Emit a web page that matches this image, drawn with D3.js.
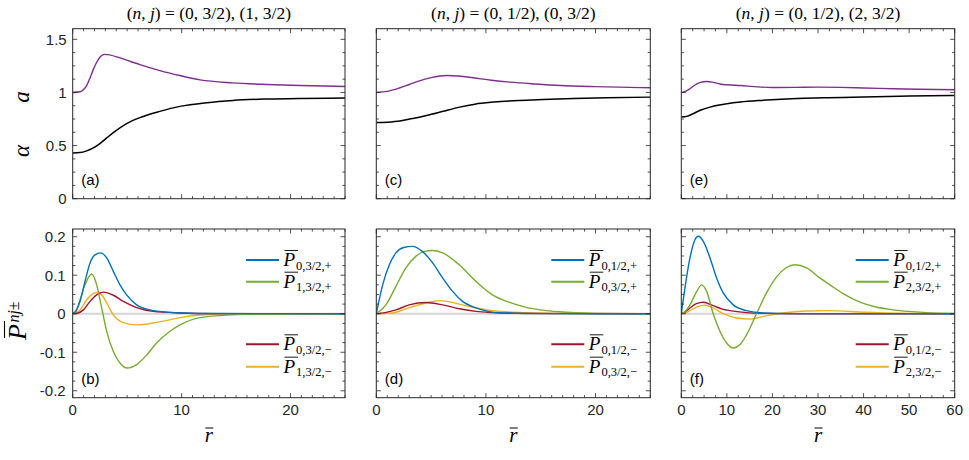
<!DOCTYPE html>
<html><head><meta charset="utf-8">
<script src="https://cdn.jsdelivr.net/npm/d3@7"></script>
<style>body{margin:0;background:#fff} svg{display:block}</style>
</head><body><svg id="c" width="969" height="460"></svg>
<script>
// ---------------- DATA ----------------
// Panel titles (the (n,j) pairs)
const titlePairs = [["0, 3/2", "1, 3/2"], ["0, 1/2", "0, 3/2"], ["0, 1/2", "2, 3/2"]];
const panelLetters = [["(a)", "(b)"], ["(c)", "(d)"], ["(e)", "(f)"]];
const xMax = [25, 25, 60];

// top panels: alpha (black) and a (purple), [r, value]
const alphaA = [[0,0.431],[0.67,0.434],[1.28,0.450],[1.89,0.478],[2.5,0.519],[3.12,0.572],[3.73,0.622],[4.95,0.707],[6.17,0.763],[8.0,0.822],[9.84,0.869],[12.3,0.904],[14.7,0.925],[17.8,0.938],[20.9,0.944],[25,0.947]];
const aA = [[0,1.0],[0.67,1.006],[0.98,1.025],[1.28,1.065],[1.59,1.137],[1.89,1.215],[2.2,1.284],[2.5,1.331],[2.75,1.353],[2.96,1.358],[4.34,1.325],[5.26,1.294],[6.17,1.262],[8.0,1.206],[9.84,1.159],[11.7,1.118],[14.7,1.090],[17.8,1.075],[20.9,1.065],[25,1.056]];
const alphaC = [[0,0.716],[1,0.72],[2.16,0.731],[3.3,0.755],[4.6,0.784],[6,0.82],[7.6,0.862],[9,0.89],[10.7,0.909],[13,0.925],[15.2,0.934],[18,0.943],[21,0.95],[25,0.956]];
const aC = [[0,1.0],[1,1.01],[2.16,1.044],[3,1.075],[4,1.112],[5,1.14],[6.4,1.159],[7.5,1.155],[8.85,1.138],[10.5,1.115],[12.2,1.097],[14.5,1.08],[16.8,1.066],[20,1.055],[25,1.044]];
const alphaE = [[0,0.769],[1.2,0.775],[2.6,0.80],[4.3,0.835],[6.3,0.862],[8,0.88],[10,0.894],[13,0.91],[17.3,0.925],[22,0.937],[27,0.945],[32,0.95],[40,0.958],[50,0.966],[60,0.972]];
const aE = [[0,1.0],[1,1.012],[1.9,1.035],[3,1.07],[4.2,1.095],[5.6,1.103],[7,1.095],[8.5,1.08],[10,1.072],[13,1.065],[16,1.055],[20,1.046],[25,1.048],[30,1.05],[35,1.048],[40,1.042],[46.5,1.035],[52,1.03],[60,1.025]];

// bottom panels: P bar curves, [r, value]
const pB_blue = [[0,0],[0.3,0.008],[0.67,0.032],[1.13,0.084],[1.59,0.132],[2.05,0.153],[2.57,0.158],[3.12,0.145],[3.73,0.11],[4.34,0.075],[4.95,0.049],[5.87,0.023],[7.1,0.010],[8.9,0.0035],[10,0.002],[13,0.0005],[25,0]];
const pB_green = [[0,0],[0.3,0.006],[0.67,0.036],[1.13,0.075],[1.74,0.103],[2.2,0.075],[2.66,0.015],[3.12,-0.046],[3.73,-0.098],[4.34,-0.128],[5.0,-0.141],[5.87,-0.132],[6.8,-0.107],[7.7,-0.076],[8.9,-0.046],[9.85,-0.029],[11.7,-0.010],[14.7,-0.003],[18,-0.0005],[25,0]];
const pB_red = [[0,0],[0.5,0.002],[0.98,0.010],[1.59,0.032],[2.2,0.049],[2.81,0.056],[3.73,0.048],[4.65,0.032],[5.87,0.016],[7.4,0.006],[9.85,0.002],[13,0.0003],[25,0]];
const pB_yellow = [[0,0],[0.3,0.002],[0.67,0.010],[1.28,0.036],[1.8,0.051],[2.2,0.055],[2.66,0.049],[3.12,0.028],[3.73,-0.003],[4.65,-0.023],[5.87,-0.029],[7.4,-0.024],[8.9,-0.016],[9.85,-0.010],[11.5,-0.004],[14,-0.001],[25,0]];

const pD_blue = [[0,0],[0.58,0.075],[1.19,0.127],[1.79,0.158],[2.5,0.172],[3.31,0.175],[4.2,0.162],[5.14,0.132],[6.05,0.093],[6.96,0.058],[7.87,0.032],[9.1,0.015],[10.6,0.004],[12.1,0.002],[15,0.0003],[25,0]];
const pD_green = [[0,0],[0.88,0.023],[1.79,0.071],[2.7,0.119],[3.6,0.149],[4.4,0.162],[5.14,0.164],[6.05,0.158],[7.57,0.127],[9.1,0.084],[10.6,0.049],[12.1,0.030],[13.6,0.017],[15.5,0.008],[17.4,0.004],[20,0.001],[25,0]];
const pD_red = [[0,0],[0.8,0.003],[1.79,0.010],[3.0,0.023],[4.53,0.029],[6.05,0.023],[7.57,0.013],[9.1,0.006],[10.6,0.003],[13,0.001],[25,0]];
const pD_yellow = [[0,0],[1,0.001],[1.79,0.004],[3.0,0.016],[4.53,0.028],[5.75,0.034],[7.57,0.025],[9.1,0.015],[10.6,0.008],[13.6,0.003],[17,0.001],[25,0]];

const pF_blue = [[0,0],[0.8,0.067],[1.9,0.145],[3.0,0.192],[3.73,0.201],[4.83,0.188],[6.3,0.145],[7.75,0.093],[9.2,0.054],[11.4,0.023],[14.3,0.008],[18,0.002],[25,0.0003],[60,0]];
const pF_green = [[0,0],[1.0,0.008],[1.9,0.023],[3.4,0.058],[4.46,0.075],[5.56,0.058],[7,0.0],[8.5,-0.046],[9.95,-0.076],[11.4,-0.089],[12.9,-0.08],[14.3,-0.055],[16.5,0],[18.7,0.054],[21,0.097],[23.1,0.12],[24.9,0.127],[27.5,0.119],[30.4,0.093],[32.6,0.075],[35.5,0.052],[39.2,0.030],[42.5,0.018],[46.5,0.010],[53.8,0.003],[60,0.001]];
const pF_red = [[0,0],[0.8,0.004],[1.9,0.015],[3.3,0.026],[4.83,0.030],[7,0.021],[9,0.012],[10.7,0.008],[14.3,0.003],[18,0.001],[25,0],[60,0]];
const pF_yellow = [[0,0],[1,0.002],[1.9,0.008],[3.5,0.018],[5.2,0.022],[7,0.015],[9.2,0.0],[12.1,-0.011],[15.1,-0.014],[18,-0.007],[21,0],[23.8,0.004],[27.5,0.007],[32.6,0.008],[40,0.004],[50,0.001],[60,0]];

// legend subscripts (order: blue, green, red, yellow)
const legendB = ["0,3/2,+", "1,3/2,+", "0,3/2,\u2212", "1,3/2,\u2212"];
const legendD = ["0,1/2,+", "0,3/2,+", "0,1/2,\u2212", "0,3/2,\u2212"];
const legendF = ["0,1/2,+", "2,3/2,+", "0,1/2,\u2212", "2,3/2,\u2212"];

// tick values / labels
const topYTicks = [0, 0.5, 1, 1.5];
const topYLabels = ["0", "0.5", "1", "1.5"];
const botYTicks = [-0.2, -0.1, 0, 0.1, 0.2];
const botYLabels = ["-0.2", "-0.1", "0", "0.1", "0.2"];
const xTicks25 = [0, 10, 20];
const xTicks60 = [0, 10, 20, 30, 40, 50, 60];

// ---------------- DRAWING ----------------
const svg = d3.select("#c");
const SANS = "'Liberation Sans', Arial, Helvetica, sans-serif";
const SERIF = "'Liberation Serif', 'Times New Roman', serif";
const C = {alpha:"#000000", a:"#7E2F8E", blue:"#0072BD", green:"#77AC30", red:"#A2142F", yellow:"#EDB120"};
const AX = "#262626";

const colX = [[72.7, 345], [376.3, 650.3], [681.3, 954.7]];
const rowY = [[28.7, 198.7], [229, 397.7]];

const topData = [[alphaA, aA], [alphaC, aC], [alphaE, aE]];
const botData = [[pB_blue, pB_green, pB_red, pB_yellow], [pD_blue, pD_green, pD_red, pD_yellow], [pF_blue, pF_green, pF_red, pF_yellow]];
const legends = [legendB, legendD, legendF];
const botColors = [C.blue, C.green, C.red, C.yellow];

function range(a, b, s) { const out = []; for (let v = a; v <= b + 1e-9; v += s) out.push(+v.toFixed(6)); return out; }

function drawFrame(g, x, y, xMinor, yMinor, xMajor, yMajor) {
  const [x0, x1] = x.range(), [y0, y1] = y.range(); // y0 bottom, y1 top
  const majL = 4.5, minL = 2.6;
  const tk = g.append("g").attr("stroke", AX).attr("stroke-width", 0.8);
  const isMajor = (v, arr) => arr.some(m => Math.abs(m - v) < 1e-6);
  xMinor.forEach(v => {
    const L = isMajor(v, xMajor) ? majL : minL, px = x(v);
    tk.append("line").attr("x1", px).attr("x2", px).attr("y1", y0).attr("y2", y0 - L);
    tk.append("line").attr("x1", px).attr("x2", px).attr("y1", y1).attr("y2", y1 + L);
  });
  yMinor.forEach(v => {
    const L = isMajor(v, yMajor) ? majL : minL, py = y(v);
    tk.append("line").attr("y1", py).attr("y2", py).attr("x1", x0).attr("x2", x0 + L);
    tk.append("line").attr("y1", py).attr("y2", py).attr("x1", x1).attr("x2", x1 - L);
  });
  g.append("rect").attr("x", x0).attr("y", y1).attr("width", x1 - x0).attr("height", y0 - y1)
    .attr("fill", "none").attr("stroke", AX).attr("stroke-width", 1);
}

function clipFor(id, x, y) {
  const [x0, x1] = x.range(), [y0, y1] = y.range();
  svg.append("clipPath").attr("id", id).append("rect").attr("x", x0).attr("y", y1).attr("width", x1 - x0).attr("height", y0 - y1);
  return "url(#" + id + ")";
}

for (let c = 0; c < 3; c++) {
  const x = d3.scaleLinear().domain([0, xMax[c]]).range(colX[c]);
  const xMinor = xMax[c] === 25 ? range(0, 25, 1) : range(0, 60, 2.5);
  const xMajor = xMax[c] === 25 ? xTicks25 : xTicks60;
  const midX = (colX[c][0] + colX[c][1]) / 2;

  // ---- top panel ----
  const yT = d3.scaleLinear().domain([0, 1.6]).range([rowY[0][1], rowY[0][0]]);
  const gT = svg.append("g");
  const clipT = clipFor("clipT" + c, x, yT);
  const lineT = d3.line().x(d => x(d[0])).y(d => yT(d[1])).curve(d3.curveMonotoneX);
  gT.append("path").datum(topData[c][1]).attr("d", lineT).attr("fill", "none").attr("stroke", C.a).attr("stroke-width", 1.4).attr("clip-path", clipT);
  gT.append("path").datum(topData[c][0]).attr("d", lineT).attr("fill", "none").attr("stroke", C.alpha).attr("stroke-width", 1.5).attr("clip-path", clipT);
  drawFrame(gT, x, yT, xMinor, range(0, 1.6, 0.125), xMajor, topYTicks);
  gT.append("text").attr("x", colX[c][0] + 8.5).attr("y", rowY[0][1] - 13.5)
    .attr("font-family", SANS).attr("font-size", 15).attr("fill", "#000").text(panelLetters[c][0]);

  // title
  const t = svg.append("text").attr("x", midX).attr("y", 19).attr("text-anchor", "middle")
    .attr("font-family", SERIF).attr("font-size", 17.5).attr("fill", "#000");
  t.append("tspan").text("(");
  t.append("tspan").attr("font-style", "italic").text("n");
  t.append("tspan").text(", ");
  t.append("tspan").attr("font-style", "italic").text("j");
  t.append("tspan").text(") = (" + titlePairs[c][0] + "), (" + titlePairs[c][1] + ")");

  // ---- bottom panel ----
  const yB = d3.scaleLinear().domain([-0.218, 0.22]).range([rowY[1][1], rowY[1][0]]);
  const gB = svg.append("g");
  const clipB = clipFor("clipB" + c, x, yB);
  gB.append("line").attr("x1", x(0)).attr("x2", x(xMax[c])).attr("y1", yB(0)).attr("y2", yB(0))
    .attr("stroke", "#d4d4d4").attr("stroke-width", 2);
  const lineB = d3.line().x(d => x(d[0])).y(d => yB(d[1])).curve(d3.curveMonotoneX);
  const order = [3, 2, 1, 0];
  order.forEach(k => {
    gB.append("path").datum(botData[c][k]).attr("d", lineB).attr("fill", "none")
      .attr("stroke", botColors[k]).attr("stroke-width", 1.4).attr("clip-path", clipB);
  });
  drawFrame(gB, x, yB, xMinor, range(-0.2, 0.2, 0.025), xMajor, botYTicks);
  gB.append("text").attr("x", colX[c][0] + 8.5).attr("y", rowY[1][1] - 13.5)
    .attr("font-family", SANS).attr("font-size", 15).attr("fill", "#000").text(panelLetters[c][1]);

  // x tick labels
  gB.selectAll("text.xt").data(xMajor).enter().append("text").attr("class", "xt")
    .attr("x", d => x(d)).attr("y", rowY[1][1] + 17.5).attr("text-anchor", "middle")
    .attr("font-family", SANS).attr("font-size", 15).attr("fill", AX).text(d => d);

  // x label r-bar
  const rb = svg.append("g").attr("transform", "translate(" + midX + "," + 442 + ")");
  rb.append("text").attr("text-anchor", "middle").attr("font-family", SERIF).attr("font-style", "italic")
    .attr("font-size", 21).attr("fill", "#000").text("r");
  rb.append("line").attr("x1", -3.5).attr("x2", 4.5).attr("y1", -14).attr("y2", -14).attr("stroke", "#000").attr("stroke-width", 1);

  // legend
  const legX = colX[c][1] - 99;
  const legOff = [31, 52.7, 115.3, 137.7];
  legends[c].forEach((lab, k) => {
    const ly = rowY[1][0] + legOff[k];
    const lg = svg.append("g").attr("transform", "translate(" + legX + "," + ly + ")");
    lg.append("line").attr("x1", 0).attr("x2", 33).attr("y1", 0).attr("y2", 0).attr("stroke", botColors[k]).attr("stroke-width", 2);
    const tx = lg.append("text").attr("x", 37.5).attr("y", 6).attr("font-family", SERIF).attr("font-size", 19).attr("fill", "#000");
    tx.append("tspan").attr("font-style", "italic").text("P");
    tx.append("tspan").attr("font-size", 12.5).attr("dy", 3.5).attr("dx", 1).text(lab);
    lg.append("line").attr("x1", 38.5).attr("x2", 52).attr("y1", -9.5).attr("y2", -9.5).attr("stroke", "#000").attr("stroke-width", 0.9);
  });

  if (c === 0) {
    // y tick labels
    gT.selectAll("text.yt").data(topYTicks).enter().append("text").attr("class", "yt")
      .attr("x", colX[0][0] - 6).attr("y", d => yT(d) + 5.3).attr("text-anchor", "end")
      .attr("font-family", SANS).attr("font-size", 15).attr("fill", AX).text((d, i) => topYLabels[i]);
    gB.selectAll("text.yt").data(botYTicks).enter().append("text").attr("class", "yt")
      .attr("x", colX[0][0] - 7).attr("y", d => yB(d) + 5.3).attr("text-anchor", "end")
      .attr("font-family", SANS).attr("font-size", 15).attr("fill", AX).text((d, i) => botYLabels[i]);
    // y labels (top): alpha and a
    [["\u03B1", 151], ["a", 97]].forEach(([s, yy]) => {
      svg.append("text").attr("transform", "translate(29," + yy + ") rotate(-90)").attr("text-anchor", "middle")
        .attr("font-family", SERIF).attr("font-style", "italic").attr("font-size", 23).attr("fill", "#000").text(s);
    });
    // y label (bottom): P-bar_{nj±}
    const pl = svg.append("g").attr("transform", "translate(26,313) rotate(-90)");
    const pt = pl.append("text").attr("x", -27).attr("y", 0).attr("font-family", SERIF).attr("font-size", 26).attr("fill", "#000");
    pt.append("tspan").attr("font-style", "italic").text("P");
    const st = pt.append("tspan").attr("font-size", 16).attr("dy", -7).attr("dx", 1.5);
    st.append("tspan").attr("font-style", "italic").text("nj");
    st.append("tspan").text("\u00B1");
    pl.append("line").attr("x1", -25).attr("x2", -8).attr("y1", -21.5).attr("y2", -21.5).attr("stroke", "#000").attr("stroke-width", 1.1);
  }
}
</script></body></html>
